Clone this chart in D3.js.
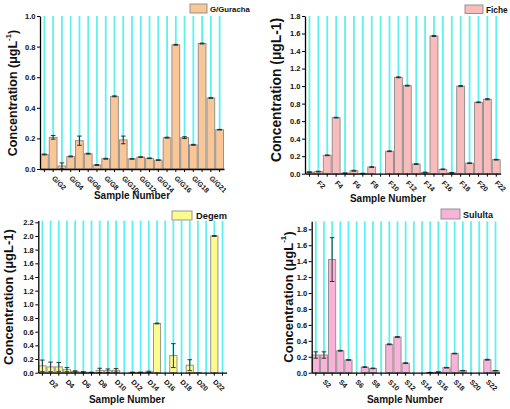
<!DOCTYPE html>
<html><head><meta charset="utf-8">
<script src="https://cdn.jsdelivr.net/npm/d3@7"></script>
<style>
body{margin:0;background:#fff;}
svg{display:block;font-family:"Liberation Sans",Arial,sans-serif;font-weight:bold;}
</style></head>
<body>
<svg id="chart" width="510" height="409"></svg>
<script>
// ---------- DATA ----------
const gCategories = ["G/G1","G/G2","G/G3","G/G4","G/G5","G/G6","G/G7","G/G8","G/G9","G/G10","G/G11","G/G12","G/G13","G/G14","G/G15","G/G16","G/G17","G/G18","G/G19","G/G21","G/G22"];
const gTickLabels = ["","G/G2","","G/G4","","G/G6","","G/G8","","G/G10","","G/G12","","G/G14","","G/G16","","G/G18","","G/G21",""];
const gValues = [0.095,0.207,0.02,0.082,0.185,0.10,0.026,0.067,0.475,0.19,0.066,0.078,0.07,0.058,0.205,0.812,0.205,0.158,0.82,0.464,0.257];
const gErrors = [0.003,0.012,0.02,0.003,0.03,0.003,0.003,0.003,0.003,0.025,0.002,0.002,0.002,0.002,0.003,0.003,0.006,0.003,0.003,0.002,0.002];
const gYTicks = [0,0.2,0.4,0.6,0.8,1.0];

const fCategories = d3.range(1,23).map(i=>"F"+i);
const fTickLabels = fCategories.map((c,i)=> i%2===1 ? c : "");
const fValues = [0.018,0.024,0.21,0.64,0.006,0.034,0.003,0.076,0,0.256,1.10,1.005,0.11,0.014,1.572,0.05,0.01,1.0,0.12,0.815,0.85,0.16];
const fErrors = [0.004,0.004,0.004,0.004,0.003,0.005,0.002,0.004,0,0.004,0.005,0.005,0.004,0.004,0.006,0.004,0.004,0.006,0.004,0.004,0.006,0.004];
const fYTicks = [0,0.2,0.4,0.6,0.8,1.0,1.2,1.4,1.6,1.8];

const dCategories = d3.range(1,24).map(i=>"D"+i);
const dTickLabels = dCategories.map((c,i)=> (i%2===1 && i<22) ? c : "");
const dValues = [0.10,0.085,0.085,0.045,0.02,0.01,0.005,0.035,0.03,0.035,0,0.005,0.005,0.012,0.72,0,0.25,0,0.11,0.003,0,2.0,0];
const dErrors = [0.085,0.07,0.065,0.03,0.008,0.004,0.002,0.03,0.025,0.025,0,0.003,0.003,0.01,0.006,0,0.175,0,0.08,0,0,0.006,0];
const dYTicks = [0,0.2,0.4,0.6,0.8,1.0,1.2,1.4,1.6,1.8,2.0,2.2];

const sCategories = d3.range(1,24).map(i=>"S"+i);
const sTickLabels = sCategories.map((c,i)=> (i%2===1 && i<22) ? c : "");
const sValues = [0.222,0.222,1.42,0.276,0.16,0,0.07,0.054,0,0.356,0.448,0.12,0,0,0.003,0.008,0.063,0.24,0.025,0,0,0.163,0.025];
const sErrors = [0.04,0.04,0.275,0.005,0.004,0,0.004,0.004,0,0.005,0.005,0.005,0,0,0.002,0.003,0.004,0.004,0.003,0,0,0.005,0.003];
const sYTicks = [0,0.2,0.4,0.6,0.8,1.0,1.2,1.4,1.6,1.8];

const panels = [
  {name:"G/Guracha", cats:gCategories, labels:gTickLabels, vals:gValues, errs:gErrors, ticks:gYTicks, ymax:1.0,
   fill:"#f9c797", x0:40, x1:224, y0:169, yTop:16, ytitle:"sup", ytx:13, yty:93, yfs:12.5,
   sx:132, sy:199, leg:{x:190,y:4,w:17,h:9,tx:210,ty:12,fs:7.8}},
  {name:"Fiche", cats:fCategories, labels:fTickLabels, vals:fValues, errs:fErrors, ticks:fYTicks, ymax:1.8,
   fill:"#f9bcbc", x0:305, x1:500.7, y0:173.7, yTop:16, ytitle:"plain", ytx:276, yty:90, yfs:13.8,
   sx:388, sy:202, leg:{x:465,y:5,w:18,h:8.5,tx:486,ty:12.5,fs:8.3}},
  {name:"Degem", cats:dCategories, labels:dTickLabels, vals:dValues, errs:dErrors, ticks:dYTicks, ymax:2.225,
   fill:"#fbfb8e", x0:38.3, x1:226.6, y0:372.7, yTop:222.3, yTopVal:2.2, ytitle:"plain", ytx:8.5, yty:297, yfs:13,
   sx:127, sy:403, leg:{x:172,y:211,w:20,h:9,tx:196,ty:219,fs:9.3}},
  {name:"Sululta", cats:sCategories, labels:sTickLabels, vals:sValues, errs:sErrors, ticks:sYTicks, ymax:1.9,
   fill:"#f8b4d8", x0:311.7, x1:499.6, y0:372.7, yTop:229.3, yTopVal:1.8, ytitle:"sup", ytx:288, yty:297, yfs:13,
   sx:405, sy:403, leg:{x:441,y:209,w:19,h:10,tx:463,ty:218,fs:9}}
];

const svg = d3.select("#chart");

panels.forEach(p=>{
  const g = svg.append("g");
  const x = d3.scaleBand().domain(p.cats).range([p.x0,p.x1]).padding(0);
  const topVal = p.yTopVal || p.ymax;
  const pxPerUnit = (p.y0 - p.yTop)/topVal;
  const y = d3.scaleLinear().domain([0,p.ymax]).range([p.y0, p.y0 - pxPerUnit*p.ymax]);

  // cyan guide lines at category centres
  g.append("g").selectAll("line").data(p.cats).join("line")
    .attr("x1",d=>x(d)+x.bandwidth()/2).attr("x2",d=>x(d)+x.bandwidth()/2)
    .attr("y1",y(p.ymax)).attr("y2",y(0))
    .attr("stroke","#5cf2f2").attr("stroke-width",1.8);

  // bars
  g.append("g").selectAll("rect").data(p.vals).join("rect")
    .attr("x",(d,i)=>x(p.cats[i])+0.5)
    .attr("width",x.bandwidth()-1)
    .attr("y",d=>y(d))
    .attr("height",d=>Math.max(0,y(0)-y(d)))
    .attr("fill",p.fill).attr("stroke",d=>d>0?"#8a8a8a":"none").attr("stroke-width",0.9);

  // error bars
  const eg = g.append("g").attr("stroke","#222").attr("stroke-width",0.9);
  p.vals.forEach((v,i)=>{
    const e = p.errs[i]; if(!(v>0) || !(e>0)) return;
    const cx = x(p.cats[i])+x.bandwidth()/2;
    const lo = Math.max(0, v-e), hi = v+e;
    eg.append("line").attr("x1",cx).attr("x2",cx).attr("y1",y(lo)).attr("y2",y(hi));
    eg.append("line").attr("x1",cx-2.3).attr("x2",cx+2.3).attr("y1",y(hi)).attr("y2",y(hi));
    eg.append("line").attr("x1",cx-2.3).attr("x2",cx+2.3).attr("y1",y(lo)).attr("y2",y(lo));
  });

  // y axis
  const ya = g.append("g").attr("transform",`translate(${p.x0},0)`)
    .call(d3.axisLeft(y).tickValues(p.ticks).tickFormat(d3.format(".1f")).tickSize(3).tickSizeOuter(0));
  ya.select(".domain").attr("stroke","#000").attr("stroke-width",1.3);
  ya.selectAll(".tick line").attr("stroke","#000").attr("stroke-width",1);
  ya.selectAll(".tick text").attr("font-size",7.5).attr("font-weight","bold").attr("font-family","Liberation Sans, Arial, sans-serif").attr("x",-4.5).attr("fill","#111");

  // x axis
  const xa = g.append("g").attr("transform",`translate(0,${p.y0})`)
    .call(d3.axisBottom(x).tickFormat((d,i)=>p.labels[i]).tickSize(3).tickSizeOuter(0));
  xa.select(".domain").attr("stroke","#000").attr("stroke-width",1.3);
  xa.selectAll(".tick line").attr("stroke","#000").attr("stroke-width",1);
  xa.selectAll(".tick text")
    .attr("font-size",7).attr("font-weight","bold").attr("font-family","Liberation Sans, Arial, sans-serif").attr("fill","#111")
    .attr("text-anchor","start").attr("x",0).attr("y",0).attr("dy","0.35em")
    .attr("transform","translate(0,8) rotate(45)");

  // y title
  const yt = g.append("text").attr("transform",`translate(${p.ytx},${p.yty}) rotate(-90)`)
    .attr("text-anchor","middle").attr("dominant-baseline","central")
    .attr("font-size",p.yfs).attr("font-weight","bold").attr("fill","#111");
  if(p.ytitle==="sup"){
    yt.append("tspan").text("Concentration (μgL");
    yt.append("tspan").text("-1").attr("font-size",p.yfs*0.62).attr("dy",-p.yfs*0.38);
    yt.append("tspan").text(")").attr("dy",p.yfs*0.38);
  } else {
    yt.text("Concentration (μgL-1)");
  }

  // x title
  g.append("text").attr("x",p.sx).attr("y",p.sy).attr("text-anchor","middle")
    .attr("font-size",10).attr("font-weight","bold").attr("fill","#111").text("Sample Number");

  // legend
  g.append("rect").attr("x",p.leg.x).attr("y",p.leg.y).attr("width",p.leg.w).attr("height",p.leg.h)
    .attr("fill",p.fill).attr("stroke","#8a8a8a").attr("stroke-width",0.9);
  g.append("text").attr("x",p.leg.tx).attr("y",p.leg.ty).attr("font-size",p.leg.fs)
    .attr("font-weight","bold").attr("fill","#111").text(p.name);
});
</script>
</body></html>
